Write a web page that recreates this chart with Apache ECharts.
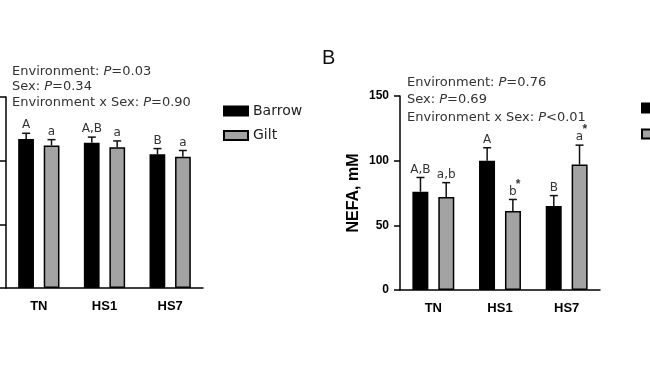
<!DOCTYPE html>
<html>
<head>
<meta charset="utf-8">
<script src="https://cdn.jsdelivr.net/npm/echarts@6/dist/echarts.min.js"></script>
<style>html,body{margin:0;padding:0;background:#fff}#c{width:650px;height:366px}</style>
</head>
<body>
<div id="c"></div>
<script>
const categories = ['TN', 'HS1', 'HS7'];
const seriesNames = ['Barrow', 'Gilt'];
// Panel A (left, axis labels cut off in the reference)
const leftBarrow = [117, 114, 105];
const leftBarrowErr = [4.5, 4.5, 4.5];
const leftGilt = [112, 110.5, 103];
const leftGiltErr = [4.5, 5, 5];
const leftBarrowLetters = ['A', 'A,B', 'B'];
const leftGiltLetters = ['a', 'a', 'a'];
const leftStats = ['=0.03', '=0.34', '=0.90'];
// Panel B (right) NEFA, mM
const rightBarrow = [76, 100, 65];
const rightBarrowErr = [11, 10, 8];
const rightGilt = [72, 61, 97];
const rightGiltErr = [11, 9, 15];
const rightBarrowLetters = ['A,B', 'A', 'B'];
const rightGiltLetters = ['a,b', 'b*', 'a*'];
const rightStats = ['=0.76', '=0.69', '<0.01'];

const FONT = 'Liberation Sans, Arial, sans-serif';
const TFONT = 'DejaVu Sans, sans-serif';
const chart = echarts.init(document.getElementById('c'), null, {renderer: 'canvas'});

function errRender(means, errs, letters, frac) {
  return function (params, api) {
    const i = params.dataIndex;
    const band = api.size([1, 0])[0];
    const base = api.coord([i, means[i]]);
    const top = api.coord([i, means[i] + errs[i]]);
    const cx = base[0] + band * frac;
    const letter = letters[i];
    const star = letter.endsWith('*');
    const main = star ? letter.slice(0, -1) : letter;
    const children = [
      {type: 'line', shape: {x1: cx, y1: base[1], x2: cx, y2: top[1]}, style: {stroke: '#111', lineWidth: 1.5}},
      {type: 'line', shape: {x1: cx - 4, y1: top[1], x2: cx + 4, y2: top[1]}, style: {stroke: '#111', lineWidth: 1.5}},
      {type: 'text', x: cx, y: top[1] - 2, style: {text: main, font: '12px ' + TFONT, fill: '#333', align: 'center', verticalAlign: 'bottom'}}
    ];
    if (star) {
      children.push({type: 'text', x: cx + 3, y: top[1] - 9, style: {text: '*', font: 'bold 12px ' + FONT, fill: '#333', align: 'left', verticalAlign: 'bottom'}});
    }
    return {type: 'group', children: children};
  };
}

function statsText(x, y, vals, gap) {
  const lines = ['Environment: ', 'Sex: ', 'Environment x Sex: '];
  return lines.map((l, k) => ({
    type: 'text', left: x, top: y + k * gap,
    style: {
      text: '{n|' + l + '}{i|P}{n|' + vals[k] + '}',
      rich: {
        n: {font: '13px ' + TFONT, fill: '#333'},
        i: {font: 'italic 13px ' + TFONT, fill: '#333'}
      }
    }
  }));
}

const axisStyle = {lineStyle: {color: '#000', width: 1.5}};

const option = {
  animation: false,
  backgroundColor: '#fff',
  grid: [
    {left: 6, top: 97, width: 197, height: 191, containLabel: false, outerBoundsMode: 'none'},
    {left: 400, top: 96, width: 200, height: 194, containLabel: false, outerBoundsMode: 'none'}
  ],
  xAxis: [0, 1].map(g => ({
    type: 'category', gridIndex: g, data: categories,
    axisLine: axisStyle,
    axisTick: {alignWithLabel: true, length: 6, lineStyle: {color: '#000', width: 1.5}},
    axisLabel: {color: '#000', fontWeight: 'bold', fontSize: 13, fontFamily: FONT, margin: 12}
  })),
  yAxis: [0, 1].map(g => ({
    type: 'value', gridIndex: g, min: 0, max: 150, interval: 50,
    name: g === 1 ? 'NEFA, mM' : '', nameLocation: 'middle', nameGap: 38,
    nameTextStyle: {color: '#000', fontWeight: 'bold', fontSize: 16, fontFamily: FONT},
    axisLine: {show: true, lineStyle: {color: '#000', width: 1.5}},
    axisTick: {show: true, length: 6, lineStyle: {color: '#000', width: 1.5}},
    splitLine: {show: false},
    axisLabel: {color: '#000', fontWeight: 'bold', fontSize: 12, fontFamily: FONT, margin: 11}
  })),
  legend: [
    {left: 223, top: 104, padding: 0, orient: 'vertical', itemWidth: 24, itemHeight: 9, itemGap: 10.5, icon: 'rect',
     data: seriesNames, selectedMode: false,
     textStyle: {fontSize: 14, color: '#222', fontFamily: TFONT}},
    {left: 641, top: 101, padding: 0, orient: 'vertical', itemWidth: 24, itemHeight: 9, itemGap: 12, icon: 'rect',
     data: seriesNames, selectedMode: false,
     textStyle: {fontSize: 14, color: '#222', fontFamily: TFONT}}
  ],
  graphic: [
    {type: 'text', left: 322, top: 48, style: {text: 'B', font: '20px ' + FONT, fill: '#111'}}
  ].concat(statsText(12, 65, leftStats, 15.5))
   .concat(statsText(407, 76, rightStats, 17.5)),
  series: [
    {name: 'Barrow', type: 'bar', xAxisIndex: 0, yAxisIndex: 0, data: leftBarrow, barWidth: '24%', barGap: '62%',
     itemStyle: {color: '#000', borderColor: '#000', borderWidth: 1.5}},
    {name: 'Gilt', type: 'bar', xAxisIndex: 0, yAxisIndex: 0, data: leftGilt, barWidth: '24%', barGap: '62%',
     itemStyle: {color: '#a3a3a3', borderColor: '#000', borderWidth: 1.5}},
    {name: 'Barrow', type: 'bar', xAxisIndex: 1, yAxisIndex: 1, data: rightBarrow, barWidth: '24%', barGap: '62%',
     itemStyle: {color: '#000', borderColor: '#000', borderWidth: 1.5}},
    {name: 'Gilt', type: 'bar', xAxisIndex: 1, yAxisIndex: 1, data: rightGilt, barWidth: '24%', barGap: '62%',
     itemStyle: {color: '#a3a3a3', borderColor: '#000', borderWidth: 1.5}},
    {type: 'custom', xAxisIndex: 0, yAxisIndex: 0, data: leftBarrow.map((v, i) => [i, v]), z: 5,
     renderItem: errRender(leftBarrow, leftBarrowErr, leftBarrowLetters, -0.193)},
    {type: 'custom', xAxisIndex: 0, yAxisIndex: 0, data: leftGilt.map((v, i) => [i, v]), z: 5,
     renderItem: errRender(leftGilt, leftGiltErr, leftGiltLetters, 0.193)},
    {type: 'custom', xAxisIndex: 1, yAxisIndex: 1, data: rightBarrow.map((v, i) => [i, v]), z: 5,
     renderItem: errRender(rightBarrow, rightBarrowErr, rightBarrowLetters, -0.193)},
    {type: 'custom', xAxisIndex: 1, yAxisIndex: 1, data: rightGilt.map((v, i) => [i, v]), z: 5,
     renderItem: errRender(rightGilt, rightGiltErr, rightGiltLetters, 0.193)}
  ]
};
chart.setOption(option);
</script>
</body>
</html>
